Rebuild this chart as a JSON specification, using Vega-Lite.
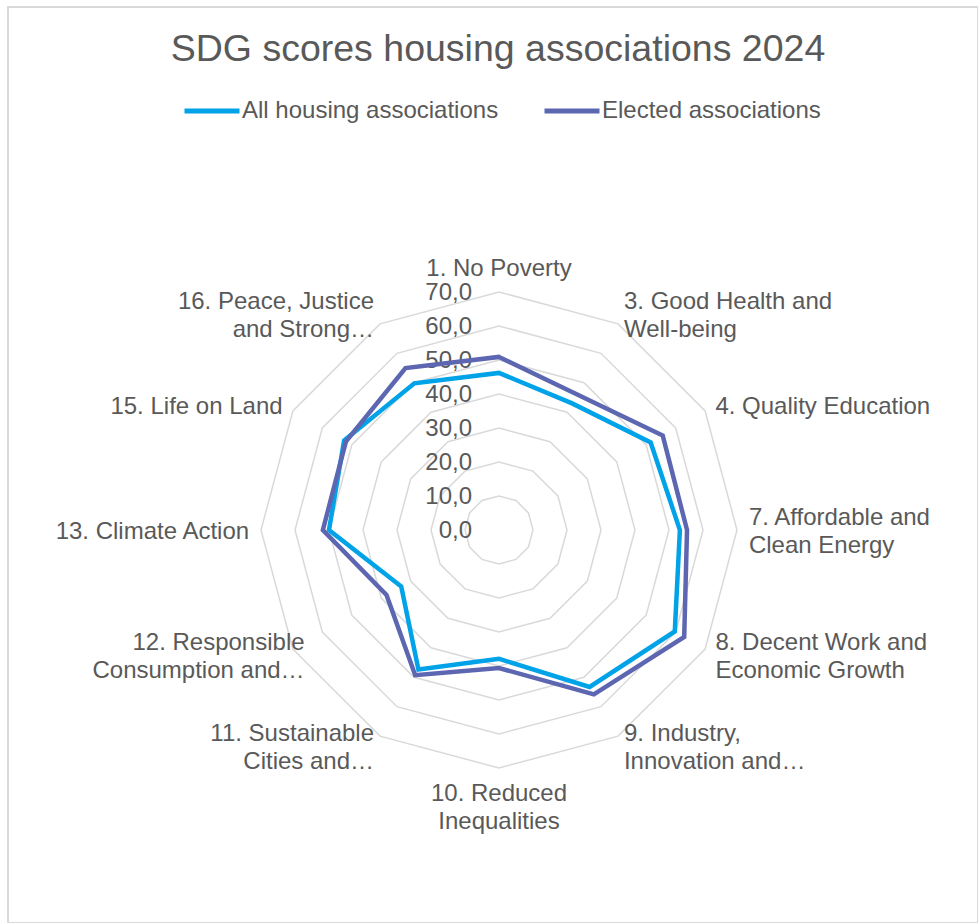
{
  "$schema": "https://vega.github.io/schema/vega-lite/v6.json",
  "width": 970,
  "height": 916,
  "autosize": {"type": "none"},
  "padding": {"left": 8, "top": 7, "right": 0, "bottom": 0},
  "background": "white",
  "config": {
    "view": {"stroke": "#D9D9D9", "strokeWidth": 2},
    "font": "Liberation Sans"
  },
  "title": {
    "text": "SDG scores housing associations 2024",
    "fontSize": 37.5,
    "fontWeight": "normal",
    "color": "#595959",
    "font": "Liberation Sans",
    "anchor": "middle",
    "frame": "group",
    "offset": -61,
    "dx": 5
  },
  "datasets": {
    "axes": [
      {"idx": 0, "label": "1. No Poverty"},
      {"idx": 1, "label": "3. Good Health and\nWell-being"},
      {"idx": 2, "label": "4. Quality Education"},
      {"idx": 3, "label": "7. Affordable and\nClean Energy"},
      {"idx": 4, "label": "8. Decent Work and\nEconomic Growth"},
      {"idx": 5, "label": "9. Industry,\nInnovation and…"},
      {"idx": 6, "label": "10. Reduced\nInequalities"},
      {"idx": 7, "label": "11. Sustainable\nCities and…"},
      {"idx": 8, "label": "12. Responsible\nConsumption and…"},
      {"idx": 9, "label": "13. Climate Action"},
      {"idx": 10, "label": "15. Life on Land"},
      {"idx": 11, "label": "16. Peace, Justice\nand Strong…"}
    ],
    "levels": [
      {"level": 0, "text": "0,0"},
      {"level": 10, "text": "10,0"},
      {"level": 20, "text": "20,0"},
      {"level": 30, "text": "30,0"},
      {"level": 40, "text": "40,0"},
      {"level": 50, "text": "50,0"},
      {"level": 60, "text": "60,0"},
      {"level": 70, "text": "70,0"}
    ],
    "scores": [
      {"sdg": "1. No Poverty", "idx": 0, "series": "All housing associations", "score": 46.2},
      {"sdg": "3. Good Health and Well-being", "idx": 1, "series": "All housing associations", "score": 43.0},
      {"sdg": "4. Quality Education", "idx": 2, "series": "All housing associations", "score": 51.5},
      {"sdg": "7. Affordable and Clean Energy", "idx": 3, "series": "All housing associations", "score": 53.2},
      {"sdg": "8. Decent Work and Economic Growth", "idx": 4, "series": "All housing associations", "score": 59.7},
      {"sdg": "9. Industry, Innovation and Infrastructure", "idx": 5, "series": "All housing associations", "score": 53.3},
      {"sdg": "10. Reduced Inequalities", "idx": 6, "series": "All housing associations", "score": 37.9},
      {"sdg": "11. Sustainable Cities and Communities", "idx": 7, "series": "All housing associations", "score": 47.4},
      {"sdg": "12. Responsible Consumption and Production", "idx": 8, "series": "All housing associations", "score": 33.2},
      {"sdg": "13. Climate Action", "idx": 9, "series": "All housing associations", "score": 50.0},
      {"sdg": "15. Life on Land", "idx": 10, "series": "All housing associations", "score": 52.6},
      {"sdg": "16. Peace, Justice and Strong Institutions", "idx": 11, "series": "All housing associations", "score": 49.8},
      {"sdg": "1. No Poverty", "idx": 0, "series": "Elected associations", "score": 50.9},
      {"sdg": "3. Good Health and Well-being", "idx": 1, "series": "Elected associations", "score": 46.0},
      {"sdg": "4. Quality Education", "idx": 2, "series": "Elected associations", "score": 55.6},
      {"sdg": "7. Affordable and Clean Energy", "idx": 3, "series": "Elected associations", "score": 55.3},
      {"sdg": "8. Decent Work and Economic Growth", "idx": 4, "series": "Elected associations", "score": 62.9},
      {"sdg": "9. Industry, Innovation and Infrastructure", "idx": 5, "series": "Elected associations", "score": 55.8},
      {"sdg": "10. Reduced Inequalities", "idx": 6, "series": "Elected associations", "score": 40.6},
      {"sdg": "11. Sustainable Cities and Communities", "idx": 7, "series": "Elected associations", "score": 49.3},
      {"sdg": "12. Responsible Consumption and Production", "idx": 8, "series": "Elected associations", "score": 38.2},
      {"sdg": "13. Climate Action", "idx": 9, "series": "Elected associations", "score": 51.8},
      {"sdg": "15. Life on Land", "idx": 10, "series": "Elected associations", "score": 52.0},
      {"sdg": "16. Peace, Justice and Strong Institutions", "idx": 11, "series": "Elected associations", "score": 55.0}
    ]
  },
  "layer": [
    {
      "data": {"name": "axes"},
      "transform": [
        {"calculate": "[10, 20, 30, 40, 50, 60, 70]", "as": "lv"},
        {"flatten": ["lv"]},
        {"calculate": "datum.lv * sin(datum.idx * PI / 6)", "as": "gx"},
        {"calculate": "datum.lv * cos(datum.idx * PI / 6)", "as": "gy"}
      ],
      "mark": {"type": "line", "interpolate": "linear-closed", "stroke": "#D9D9D9", "strokeWidth": 1.5},
      "encoding": {
        "x": {"field": "gx", "type": "quantitative", "scale": {"domain": [-144.41, 140.88], "nice": false, "zero": false}, "axis": null},
        "y": {"field": "gy", "type": "quantitative", "scale": {"domain": [-115.59, 153.82], "nice": false, "zero": false}, "axis": null},
        "detail": {"field": "lv", "type": "nominal"},
        "order": {"field": "idx", "type": "quantitative"}
      }
    },
    {
      "data": {"name": "levels"},
      "mark": {"type": "text", "align": "right", "baseline": "middle", "dx": -27, "dy": 1, "fontSize": 24, "color": "#595959", "font": "Liberation Sans"},
      "encoding": {
        "x": {"datum": 0, "type": "quantitative", "scale": {"domain": [-144.41, 140.88], "nice": false, "zero": false}, "axis": null},
        "y": {"field": "level", "type": "quantitative", "scale": {"domain": [-115.59, 153.82], "nice": false, "zero": false}, "axis": null},
        "text": {"field": "text"}
      }
    },
    {
      "data": {"name": "axes"},
      "transform": [
        {"filter": "datum.idx == 0"},
        {"calculate": "73.5 * sin(datum.idx * PI / 6)", "as": "lx"},
        {"calculate": "73.5 * cos(datum.idx * PI / 6)", "as": "ly"}
      ],
      "mark": {"type": "text", "align": "center", "baseline": "bottom", "dy": 1, "fontSize": 24, "lineHeight": 28, "lineBreak": "\n", "color": "#595959", "font": "Liberation Sans"},
      "encoding": {
        "x": {"field": "lx", "type": "quantitative", "scale": {"domain": [-144.41, 140.88], "nice": false, "zero": false}, "axis": null},
        "y": {"field": "ly", "type": "quantitative", "scale": {"domain": [-115.59, 153.82], "nice": false, "zero": false}, "axis": null},
        "text": {"field": "label"}
      }
    },
    {
      "data": {"name": "axes"},
      "transform": [
        {"filter": "datum.idx == 6"},
        {"calculate": "73.5 * sin(datum.idx * PI / 6)", "as": "lx"},
        {"calculate": "73.5 * cos(datum.idx * PI / 6)", "as": "ly"}
      ],
      "mark": {"type": "text", "align": "center", "baseline": "top", "dy": 2, "fontSize": 24, "lineHeight": 28, "lineBreak": "\n", "color": "#595959", "font": "Liberation Sans"},
      "encoding": {
        "x": {"field": "lx", "type": "quantitative", "scale": {"domain": [-144.41, 140.88], "nice": false, "zero": false}, "axis": null},
        "y": {"field": "ly", "type": "quantitative", "scale": {"domain": [-115.59, 153.82], "nice": false, "zero": false}, "axis": null},
        "text": {"field": "label"}
      }
    },
    {
      "data": {"name": "axes"},
      "transform": [
        {"filter": "datum.idx == 2"},
        {"calculate": "73.5 * sin(datum.idx * PI / 6)", "as": "lx"},
        {"calculate": "73.5 * cos(datum.idx * PI / 6)", "as": "ly"}
      ],
      "mark": {"type": "text", "align": "left", "baseline": "middle", "dy": 2, "fontSize": 24, "lineHeight": 28, "lineBreak": "\n", "color": "#595959", "font": "Liberation Sans"},
      "encoding": {
        "x": {"field": "lx", "type": "quantitative", "scale": {"domain": [-144.41, 140.88], "nice": false, "zero": false}, "axis": null},
        "y": {"field": "ly", "type": "quantitative", "scale": {"domain": [-115.59, 153.82], "nice": false, "zero": false}, "axis": null},
        "text": {"field": "label"}
      }
    },
    {
      "data": {"name": "axes"},
      "transform": [
        {"filter": "datum.idx == 1 || datum.idx == 3 || datum.idx == 4 || datum.idx == 5"},
        {"calculate": "73.5 * sin(datum.idx * PI / 6)", "as": "lx"},
        {"calculate": "73.5 * cos(datum.idx * PI / 6)", "as": "ly"}
      ],
      "mark": {"type": "text", "align": "left", "baseline": "middle", "dy": -12, "fontSize": 24, "lineHeight": 28, "lineBreak": "\n", "color": "#595959", "font": "Liberation Sans"},
      "encoding": {
        "x": {"field": "lx", "type": "quantitative", "scale": {"domain": [-144.41, 140.88], "nice": false, "zero": false}, "axis": null},
        "y": {"field": "ly", "type": "quantitative", "scale": {"domain": [-115.59, 153.82], "nice": false, "zero": false}, "axis": null},
        "text": {"field": "label"}
      }
    },
    {
      "data": {"name": "axes"},
      "transform": [
        {"filter": "datum.idx == 9 || datum.idx == 10"},
        {"calculate": "73.5 * sin(datum.idx * PI / 6)", "as": "lx"},
        {"calculate": "73.5 * cos(datum.idx * PI / 6)", "as": "ly"}
      ],
      "mark": {"type": "text", "align": "right", "baseline": "middle", "dy": 2, "fontSize": 24, "lineHeight": 28, "lineBreak": "\n", "color": "#595959", "font": "Liberation Sans"},
      "encoding": {
        "x": {"field": "lx", "type": "quantitative", "scale": {"domain": [-144.41, 140.88], "nice": false, "zero": false}, "axis": null},
        "y": {"field": "ly", "type": "quantitative", "scale": {"domain": [-115.59, 153.82], "nice": false, "zero": false}, "axis": null},
        "text": {"field": "label"}
      }
    },
    {
      "data": {"name": "axes"},
      "transform": [
        {"filter": "datum.idx == 7 || datum.idx == 11"},
        {"calculate": "73.5 * sin(datum.idx * PI / 6)", "as": "lx"},
        {"calculate": "73.5 * cos(datum.idx * PI / 6)", "as": "ly"}
      ],
      "mark": {"type": "text", "align": "right", "baseline": "middle", "dy": -12, "fontSize": 24, "lineHeight": 28, "lineBreak": "\n", "color": "#595959", "font": "Liberation Sans"},
      "encoding": {
        "x": {"field": "lx", "type": "quantitative", "scale": {"domain": [-144.41, 140.88], "nice": false, "zero": false}, "axis": null},
        "y": {"field": "ly", "type": "quantitative", "scale": {"domain": [-115.59, 153.82], "nice": false, "zero": false}, "axis": null},
        "text": {"field": "label"}
      }
    },
    {
      "data": {"name": "axes"},
      "transform": [
        {"filter": "datum.idx == 8"},
        {"calculate": "73.5 * sin(datum.idx * PI / 6)", "as": "lx"},
        {"calculate": "73.5 * cos(datum.idx * PI / 6)", "as": "ly"}
      ],
      "mark": {"type": "text", "align": "right", "baseline": "middle", "dx": 22, "dy": -12, "fontSize": 24, "lineHeight": 28, "lineBreak": "\n", "color": "#595959", "font": "Liberation Sans"},
      "encoding": {
        "x": {"field": "lx", "type": "quantitative", "scale": {"domain": [-144.41, 140.88], "nice": false, "zero": false}, "axis": null},
        "y": {"field": "ly", "type": "quantitative", "scale": {"domain": [-115.59, 153.82], "nice": false, "zero": false}, "axis": null},
        "text": {"field": "label"}
      }
    },
    {
      "data": {"name": "scores"},
      "transform": [
        {"calculate": "datum.score * sin(datum.idx * PI / 6)", "as": "px"},
        {"calculate": "datum.score * cos(datum.idx * PI / 6)", "as": "py"}
      ],
      "mark": {"type": "line", "interpolate": "linear-closed", "strokeWidth": 4.5},
      "encoding": {
        "x": {"field": "px", "type": "quantitative", "scale": {"domain": [-144.41, 140.88], "nice": false, "zero": false}, "axis": null},
        "y": {"field": "py", "type": "quantitative", "scale": {"domain": [-115.59, 153.82], "nice": false, "zero": false}, "axis": null},
        "order": {"field": "idx", "type": "quantitative"},
        "color": {
          "field": "series",
          "type": "nominal",
          "scale": {"domain": ["All housing associations", "Elected associations"], "range": ["#00A2E8", "#5C66B1"]},
          "legend": {
            "orient": "none",
            "legendX": 174,
            "legendY": 74,
            "direction": "horizontal",
            "title": null,
            "symbolType": "stroke",
            "symbolSize": 3025,
            "symbolStrokeWidth": 5,
            "labelFontSize": 24,
            "labelColor": "#595959",
            "labelFont": "Liberation Sans",
            "labelOffset": 0,
            "columnPadding": 35,
            "padding": 0,
            "labelLimit": 400
          }
        }
      }
    }
  ]
}
